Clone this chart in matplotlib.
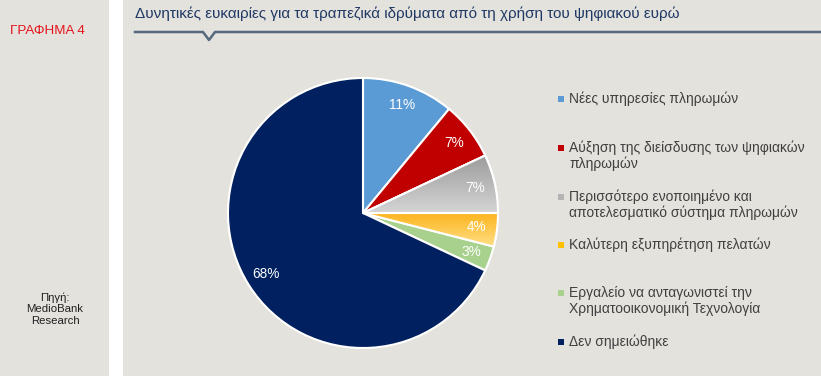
import matplotlib.pyplot as plt
import matplotlib.patches as mpatches
import numpy as np
from matplotlib.lines import Line2D
from matplotlib.colors import LinearSegmentedColormap

# Data
labels = [
    "Νέες υπηρεσίες πληρωμών",
    "Αύξηση της διείσδυσης των ψηφιακών\nπληρωμών",
    "Περισσότερο ενοποιημένο και\nαποτελεσματικό σύστημα πληρωμών",
    "Καλύτερη εξυπηρέτηση πελατών",
    "Εργαλείο να ανταγωνιστεί την\nΧρηματοοικονομική Τεχνολογία",
    "Δεν σημειώθηκε",
]
values = [11, 7, 7, 4, 3, 68]
colors = ["#5b9bd5", "#c00000", "#b4b4b4", "#ffc000", "#a9d18e", "#002060"]
# gradient slices (top colour, bottom colour)
gradients = {2: ("#9c9c9c", "#d4d4d4"), 3: ("#fcb520", "#ffdf85")}
legend_y = [99, 148, 197, 245, 293, 342]  # pixel row of first line of each legend item

title = "Δυνητικές ευκαιρίες για τα τραπεζικά ιδρύματα από τη χρήση του ψηφιακού ευρώ"
source = "Πηγή:\nMedioBank\nResearch"

W, H = 821, 376
bg = "#e4e2dd"
plt.rcParams['font.family'] = ['Liberation Sans', 'DejaVu Sans']

fig = plt.figure(figsize=(W / 100, H / 100), dpi=100)
fig.patch.set_facecolor("white")


def fx(px):
    return px / W


def fy(py):
    return 1 - py / H


# panels
fig.add_artist(mpatches.Rectangle((0, 0), fx(109), 1, transform=fig.transFigure,
                                  color=bg, lw=0, zorder=-10))
fig.add_artist(mpatches.Rectangle((fx(123), 0), 1 - fx(123), 1, transform=fig.transFigure,
                                  color=bg, lw=0, zorder=-10))

fig.text(fx(47), fy(31), "ΓΡΑΦΗΜΑ 4", color="#e3131b", fontsize=9.6,
         ha="center", va="center")
fig.text(fx(55), fy(309), source, color="#202020", fontsize=8.2,
         ha="center", va="center", linespacing=1.2)

fig.text(fx(135), fy(14), title, color="#1f3864", fontsize=11,
         ha="left", va="center")

# underline with notch
lx = [135, 203, 209, 215, 821]
ly = [32, 32, 40, 32, 32]
fig.add_artist(Line2D([fx(x) for x in lx], [fy(y) for y in ly],
                      transform=fig.transFigure, color="#56697f", lw=1.8))

# pie
cx, cy, r = 363, 213, 135
ax = fig.add_axes([fx(cx - r), fy(cy + r), 2 * r / W, 2 * r / H])
ax.set_aspect("equal")
wedges, texts, autotexts = ax.pie(
    values, colors=colors, startangle=90, counterclock=False,
    autopct=lambda p: f"{p:.0f}%", pctdistance=0.85,
    wedgeprops=dict(edgecolor="white", linewidth=1.5),
    textprops=dict(color="white", fontsize=9.8))

# vertical gradient fill for gray and yellow slices
for i, (top, bot) in gradients.items():
    w = wedges[i]
    cmap = LinearSegmentedColormap.from_list(f"g{i}", [bot, top])
    ext = w.get_path().get_extents()
    grad = np.linspace(0, 1, 64).reshape(-1, 1)
    im = ax.imshow(grad, cmap=cmap, origin="lower", aspect="auto",
                   extent=[ext.x0, ext.x1, ext.y0, ext.y1], zorder=w.get_zorder() + 0.1)
    im.set_clip_path(w)
    edge = mpatches.Wedge(w.center, w.r, w.theta1, w.theta2, fill=False,
                          edgecolor="white", lw=1.5, zorder=w.get_zorder() + 0.2)
    ax.add_patch(edge)
for t in autotexts:
    t.set_zorder(5)
ax.set_xlim(-1, 1)
ax.set_ylim(-1, 1)

# legend
line_h = 15.5
for lab, col, y in zip(labels, colors, legend_y):
    fig.add_artist(mpatches.Rectangle((fx(558), fy(y + 3)), fx(6), 6 / H,
                                      transform=fig.transFigure, color=col, lw=0))
    n = lab.count("\n")
    fig.text(fx(569), fy(y + n * line_h / 2), lab, color="#404040", fontsize=10,
             ha="left", va="center", linespacing=1.12)

fig.savefig("out.png", dpi=100, facecolor=fig.get_facecolor())
